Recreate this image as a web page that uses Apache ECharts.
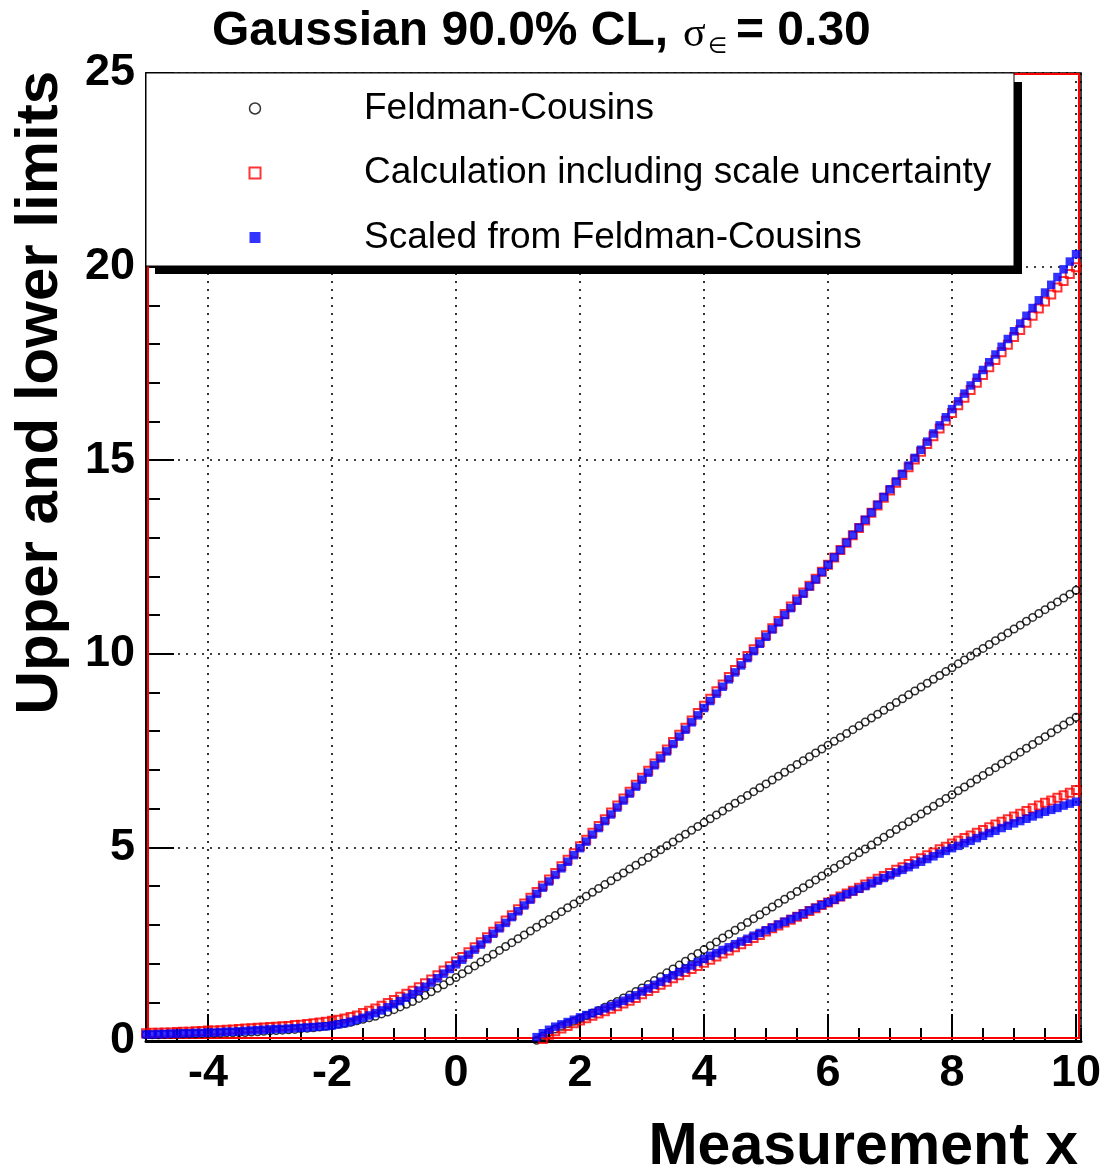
<!DOCTYPE html>
<html><head><meta charset="utf-8">
<script src="https://cdn.jsdelivr.net/npm/echarts@6/dist/echarts.min.js"></script>
<style>html,body{margin:0;padding:0;background:#fff}#c{width:1106px;height:1174px}</style>
</head><body><div id="c"></div><script>
// ---- data, x grid step 0.1 ----
const X_STEP = 0.1;
const UPPER_X_START = -5.0;
const FC_LOWER_X_START = 1.3;
const CALC_LOWER_X_START = 1.4;
const SCALED_LOWER_X_START = 1.3;

const FC_UPPER = [
0.16,0.16,0.16,0.17,0.17,0.17,0.18,0.18,0.18,0.19,
0.19,0.20,0.20,0.21,0.21,0.22,0.22,0.23,0.24,0.25,
0.26,0.27,0.28,0.29,0.30,0.32,0.33,0.34,0.36,0.38,
0.40,0.43,0.45,0.48,0.52,0.56,0.60,0.64,0.70,0.75,
0.81,0.88,0.95,1.02,1.10,1.18,1.27,1.36,1.45,1.55,
1.64,1.74,1.84,1.94,2.04,2.14,2.24,2.34,2.44,2.54,
2.64,2.74,2.84,2.94,3.04,3.14,3.24,3.34,3.44,3.54,
3.64,3.74,3.84,3.94,4.04,4.14,4.24,4.34,4.44,4.54,
4.64,4.74,4.84,4.94,5.04,5.14,5.24,5.34,5.44,5.54,
5.64,5.74,5.84,5.94,6.04,6.14,6.24,6.34,6.44,6.54,
6.64,6.74,6.84,6.94,7.04,7.14,7.24,7.34,7.44,7.54,
7.64,7.74,7.84,7.94,8.04,8.14,8.24,8.34,8.44,8.54,
8.64,8.74,8.84,8.94,9.04,9.14,9.24,9.34,9.44,9.54,
9.64,9.74,9.84,9.94,10.04,10.14,10.24,10.34,10.44,10.54,
10.64,10.74,10.84,10.94,11.04,11.14,11.24,11.34,11.44,11.54,
11.64];
const FC_LOWER = [
0.02,0.12,0.22,0.31,0.38,0.45,0.51,
0.58,0.65,0.72,0.79,0.87,0.95,1.02,1.11,1.19,1.28,
1.37,1.46,1.56,1.66,1.76,1.86,1.96,2.06,2.16,2.26,
2.36,2.46,2.56,2.66,2.76,2.86,2.96,3.06,3.16,3.26,
3.36,3.46,3.56,3.66,3.76,3.86,3.96,4.06,4.16,4.26,
4.36,4.46,4.56,4.66,4.76,4.86,4.96,5.06,5.16,5.26,
5.36,5.46,5.56,5.66,5.76,5.86,5.96,6.06,6.16,6.26,
6.36,6.46,6.56,6.66,6.76,6.86,6.96,7.06,7.16,7.26,
7.36,7.46,7.56,7.66,7.76,7.86,7.96,8.06,8.16,8.26,
8.36];
const CALC_UPPER = [
0.20,0.21,0.21,0.22,0.22,0.23,0.24,0.24,0.25,0.26,
0.27,0.27,0.28,0.29,0.30,0.31,0.32,0.33,0.34,0.35,
0.36,0.37,0.38,0.39,0.41,0.42,0.44,0.46,0.48,0.50,
0.52,0.55,0.58,0.62,0.66,0.72,0.78,0.84,0.91,0.98,
1.06,1.14,1.22,1.30,1.39,1.49,1.59,1.70,1.82,1.93,
2.05,2.17,2.29,2.42,2.55,2.68,2.82,2.96,3.11,3.25,
3.40,3.55,3.70,3.85,4.01,4.17,4.34,4.51,4.68,4.85,
5.03,5.20,5.38,5.55,5.73,5.90,6.08,6.26,6.44,6.62,
6.80,6.98,7.17,7.35,7.53,7.72,7.91,8.09,8.28,8.47,
8.66,8.84,9.03,9.21,9.40,9.58,9.76,9.94,10.12,10.30,
10.48,10.66,10.85,11.03,11.22,11.40,11.58,11.76,11.94,12.12,
12.30,12.49,12.68,12.87,13.06,13.25,13.44,13.64,13.83,14.03,
14.22,14.42,14.62,14.82,15.02,15.22,15.42,15.62,15.82,16.02,
16.22,16.42,16.61,16.81,17.00,17.20,17.40,17.59,17.79,17.98,
18.18,18.36,18.55,18.73,18.92,19.10,19.28,19.46,19.63,19.81,
19.98];
const CALC_LOWER = [
0.05,0.16,0.25,0.32,0.39,0.46,
0.53,0.59,0.65,0.71,0.77,0.83,0.90,0.97,1.04,1.11,
1.21,1.29,1.37,1.45,1.53,1.62,1.70,1.78,1.86,1.94,
2.02,2.10,2.18,2.26,2.34,2.42,2.50,2.58,2.66,2.74,
2.83,2.91,2.98,3.06,3.13,3.21,3.28,3.36,3.43,3.51,
3.58,3.66,3.73,3.81,3.88,3.96,4.04,4.11,4.19,4.26,
4.34,4.42,4.49,4.57,4.64,4.72,4.80,4.87,4.95,5.02,
5.10,5.17,5.24,5.31,5.38,5.45,5.52,5.59,5.66,5.73,
5.80,5.87,5.94,6.01,6.08,6.15,6.21,6.28,6.35,6.41,
6.48];
const SCALED_UPPER = [
0.17,0.17,0.18,0.18,0.19,0.19,0.20,0.20,0.21,0.21,
0.22,0.22,0.23,0.24,0.24,0.25,0.26,0.27,0.28,0.29,
0.30,0.31,0.31,0.32,0.33,0.34,0.35,0.36,0.37,0.38,
0.40,0.43,0.46,0.50,0.55,0.60,0.66,0.72,0.79,0.87,
0.95,1.03,1.12,1.21,1.30,1.40,1.51,1.62,1.74,1.86,
1.98,2.10,2.23,2.36,2.49,2.63,2.77,2.91,3.05,3.20,
3.35,3.50,3.65,3.80,3.96,4.12,4.29,4.46,4.63,4.80,
4.98,5.15,5.33,5.50,5.68,5.85,6.03,6.21,6.39,6.57,
6.75,6.93,7.12,7.30,7.48,7.67,7.86,8.04,8.23,8.41,
8.60,8.78,8.97,9.15,9.34,9.52,9.70,9.89,10.07,10.26,
10.44,10.63,10.81,11.00,11.18,11.37,11.55,11.74,11.92,12.11,
12.30,12.49,12.68,12.87,13.07,13.26,13.46,13.65,13.85,14.05,
14.25,14.45,14.65,14.86,15.06,15.27,15.48,15.69,15.90,16.11,
16.32,16.52,16.72,16.93,17.13,17.33,17.53,17.73,17.93,18.13,
18.33,18.53,18.73,18.93,19.13,19.33,19.53,19.73,19.93,20.13,
20.32];
const SCALED_LOWER = [
0.10,0.20,0.29,0.37,0.43,0.49,0.55,
0.61,0.67,0.72,0.78,0.84,0.90,0.97,1.04,1.11,1.18,
1.28,1.36,1.45,1.53,1.62,1.70,1.78,1.87,1.95,2.04,
2.12,2.20,2.27,2.35,2.42,2.50,2.57,2.64,2.72,2.79,
2.86,2.93,3.01,3.08,3.15,3.22,3.29,3.37,3.44,3.51,
3.58,3.65,3.72,3.79,3.86,3.93,4.00,4.07,4.14,4.21,
4.28,4.35,4.42,4.49,4.56,4.63,4.70,4.77,4.84,4.91,
4.98,5.04,5.11,5.17,5.24,5.30,5.37,5.43,5.50,5.56,
5.62,5.68,5.74,5.80,5.86,5.92,5.97,6.02,6.08,6.13,
6.18];

const X_LABEL_VALUES = [-4,-2,0,2,4,6,8,10];
const SERIES_NAMES = ['Feldman-Cousins','Calculation including scale uncertainty','Scaled from Feldman-Cousins'];
const TITLE_MAIN = 'Gaussian 90.0% CL,';
const TITLE_SIGMA = 'σ';
const TITLE_SUB = '∈';
const TITLE_END = '= 0.30';
const X_TITLE = 'Measurement x';
const Y_TITLE = 'Upper and lower limits';

// ---- build ----
function pairs(start, vals){ return vals.map((v,i)=>[+(start + i*X_STEP).toFixed(1), v]); }
const FONT = "'Liberation Sans', Arial, Helvetica, sans-serif";
const blackStyle = {color:'rgba(0,0,0,0)', borderColor:'#000', borderWidth:1.5};
const redStyle = {color:'rgba(255,255,255,0)', borderColor:'#ff0000', borderWidth:2};
const blueStyle = {color:'#0000ff', borderWidth:0};
const dotted = {color:'#000', width:1.6, type:[2,6]};

function sc(name, data, symbol, size, style){
  return {type:'scatter', name, data, symbol, symbolSize:size, itemStyle:style, silent:true, z:2, emphasis:{disabled:true}};
}

const chart = echarts.init(document.getElementById('c'), null, {renderer:'canvas'});
chart.setOption({
  animation:false,
  backgroundColor:'#fff',
  grid:{left:146, top:73, width:935, height:968, show:true, borderColor:'#000', borderWidth:1.5, backgroundColor:'transparent'},
  xAxis:[{
    type:'value', min:-5, max:10.08, splitNumber:7, position:'bottom',
    axisLine:{show:true, onZero:false, lineStyle:{color:'#000', width:3}},
    axisTick:{show:true, inside:true, length:13, lineStyle:{color:'#000', width:2}},
    axisLabel:{show:true, customValues:X_LABEL_VALUES, fontFamily:FONT, fontSize:45, fontWeight:'bold', color:'#000', margin:10, lineHeight:45},
    splitLine:{show:true, lineStyle:dotted}
  },{
    type:'value', min:-5, max:10.08, position:'top', offset:-968,
    axisLine:{show:false},
    axisTick:{show:true, inside:false, length:27, customValues:X_LABEL_VALUES, lineStyle:{color:'#000', width:2}},
    axisLabel:{show:false}, splitLine:{show:false}
  },{
    type:'value', min:-5, max:10.08, interval:0.5, position:'top', offset:-968,
    axisLine:{show:false},
    axisTick:{show:true, inside:false, length:13, lineStyle:{color:'#000', width:2}},
    axisLabel:{show:false}, splitLine:{show:false}
  }],
  yAxis:{
    type:'value', min:0, max:25, interval:5,
    axisLine:{show:true, onZero:false, lineStyle:{color:'#000', width:2}},
    axisTick:{show:true, inside:true, length:28, lineStyle:{color:'#000', width:2}},
    minorTick:{show:true, splitNumber:5, length:14, lineStyle:{color:'#000', width:2}},
    axisLabel:{fontFamily:FONT, fontSize:45, fontWeight:'bold', color:'#000', margin:11, padding:[10,0,0,0]},
    splitLine:{show:true, lineStyle:dotted}
  },
  legend:{
    orient:'vertical', left:248.5, top:88.5, padding:0, itemGap:24.5, itemWidth:11, itemHeight:11,
    selectedMode:false, z:20,
    textStyle:{fontFamily:FONT, fontSize:37, color:'#000', lineHeight:40, padding:[0,0,0,98.5]},
    data:[
      {name:SERIES_NAMES[0], icon:'circle', itemStyle:blackStyle},
      {name:SERIES_NAMES[1], icon:'rect', itemStyle:redStyle},
      {name:SERIES_NAMES[2], icon:'rect', itemStyle:blueStyle}
    ]
  },
  graphic:[
    {type:'rect', z:1, silent:true, shape:{x:148, y:74, width:931, height:964}, style:{fill:'none', stroke:'#ff0000', lineWidth:2}},
    {type:'rect', z:10, silent:true, shape:{x:155, y:82, width:867, height:192}, style:{fill:'#000'}},
    {type:'rect', z:11, silent:true, shape:{x:146, y:73, width:868, height:193}, style:{fill:'#fff', stroke:'#000', lineWidth:1}},
    {type:'text', z:12, x:212, y:31.4, style:{text:TITLE_MAIN, font:'bold 48px '+FONT, fill:'#000', align:'left', verticalAlign:'middle', textAlign:'left', textVerticalAlign:'middle'}},
    {type:'text', z:12, x:683, y:34.5, style:{text:TITLE_SIGMA, font:"42px 'Liberation Serif', 'DejaVu Serif', serif", fill:'#000', align:'left', verticalAlign:'middle', textAlign:'left', textVerticalAlign:'middle'}},
    {type:'text', z:12, x:708, y:47, style:{text:TITLE_SUB, font:"22px 'DejaVu Sans', sans-serif", fill:'#000', align:'left', verticalAlign:'middle', textAlign:'left', textVerticalAlign:'middle'}},
    {type:'text', z:12, x:736, y:31.4, style:{text:TITLE_END, font:'bold 48px '+FONT, fill:'#000', align:'left', verticalAlign:'middle', textAlign:'left', textVerticalAlign:'middle'}},
    {type:'text', z:12, x:1078, y:1147.6, style:{text:X_TITLE, font:'bold 59px '+FONT, fill:'#000', align:'right', verticalAlign:'middle', textAlign:'right', textVerticalAlign:'middle'}},
    {type:'text', z:12, x:40, y:71, rotation:Math.PI/2, style:{text:Y_TITLE, font:'bold 60px '+FONT, fill:'#000', align:'right', verticalAlign:'middle', textAlign:'right', textVerticalAlign:'middle'}}
  ],
  series:[
    sc(SERIES_NAMES[0], pairs(UPPER_X_START, FC_UPPER), 'circle', 7.5, blackStyle),
    sc(SERIES_NAMES[0], pairs(FC_LOWER_X_START, FC_LOWER), 'circle', 7.5, blackStyle),
    sc(SERIES_NAMES[1], pairs(UPPER_X_START, CALC_UPPER), 'rect', 8, redStyle),
    sc(SERIES_NAMES[1], pairs(CALC_LOWER_X_START, CALC_LOWER), 'rect', 8, redStyle),
    sc(SERIES_NAMES[2], pairs(UPPER_X_START, SCALED_UPPER), 'rect', 8.5, blueStyle),
    sc(SERIES_NAMES[2], pairs(SCALED_LOWER_X_START, SCALED_LOWER), 'rect', 8.5, blueStyle)
  ]
});
</script></body></html>
